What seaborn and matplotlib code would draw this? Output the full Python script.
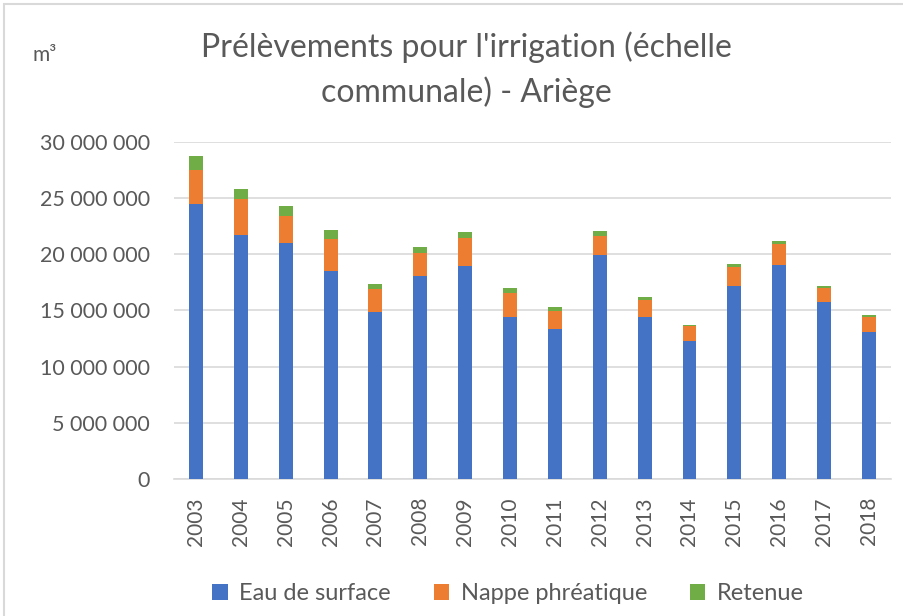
import matplotlib
matplotlib.use("Agg")
import matplotlib.pyplot as plt
import seaborn as sns
import pandas as pd
import numpy as np
from matplotlib.patches import Rectangle, Patch

years = ["2003", "2004", "2005", "2006", "2007", "2008", "2009", "2010",
         "2011", "2012", "2013", "2014", "2015", "2016", "2017", "2018"]
eau_surface = [24.49, 21.71, 21.02, 18.50, 14.88, 18.06, 18.92, 14.39,
               13.35, 19.96, 14.39, 12.28, 17.20, 19.04, 15.75, 13.05]
nappe = [3.00, 3.17, 2.41, 2.83, 2.00, 2.07, 2.49, 2.13,
         1.62, 1.66, 1.56, 1.36, 1.63, 1.89, 1.24, 1.34]
retenue = [1.25, 0.95, 0.86, 0.85, 0.47, 0.51, 0.56, 0.47,
           0.31, 0.47, 0.27, 0.06, 0.27, 0.22, 0.21, 0.20]

series = ["Eau de surface", "Nappe phréatique", "Retenue"]
colors = ["#4472C4", "#ED7D31", "#70AD47"]

df = pd.DataFrame({"year": years,
                   "s1": np.array(eau_surface) * 1e6,
                   "s2": np.array(nappe) * 1e6,
                   "s3": np.array(retenue) * 1e6})
df["c1"] = df["s1"]
df["c2"] = df["s1"] + df["s2"]
df["c3"] = df["c2"] + df["s3"]

sns.set_theme(style="white")
plt.rcParams["font.family"] = ["Lato", "DejaVu Sans"]

fig = plt.figure(figsize=(9.04, 6.16), dpi=100)
ax = fig.add_axes([0.192, 0.2224, 0.794, 0.5476])

for col, c in zip(["c3", "c2", "c1"], colors[::-1]):
    sns.barplot(data=df, x="year", y=col, color=c, width=0.31, ax=ax,
                saturation=1, linewidth=0, zorder=3)

ax.set_ylim(0, 30e6)
ax.set_xlim(-0.5, len(years) - 0.5)
ticks = np.arange(0, 30e6 + 1, 5e6)
ax.set_yticks(ticks)
ax.set_yticklabels(["0" if t == 0 else f"{int(t):,}".replace(",", " ") for t in ticks],
                   fontsize=15.5, color="#595959")
ax.set_xticks(range(len(years)))
ax.set_xticklabels(years, rotation=90, fontsize=15, color="#595959")
ax.tick_params(axis="y", length=0, pad=17)
ax.tick_params(axis="x", length=0, pad=13)
ax.set_xlabel("")
ax.set_ylabel("")
ax.yaxis.grid(True, color="#D9D9D9", linewidth=1.2, zorder=0)
ax.set_axisbelow(True)
for s in ["top", "right", "left"]:
    ax.spines[s].set_visible(False)
ax.spines["bottom"].set_color("#D9D9D9")
ax.spines["bottom"].set_linewidth(1.2)

fig.text(0.516, 0.924, "Prélèvements pour l'irrigation (échelle",
         ha="center", va="center", fontsize=23, color="#595959")
fig.text(0.516, 0.851, "communale) - Ariège",
         ha="center", va="center", fontsize=23, color="#595959")
fig.text(0.049, 0.91, "m³", ha="center", va="center", fontsize=15, color="#595959")

handles = [Patch(facecolor=c, edgecolor="none") for c in colors]
fig.legend(handles, series, loc="center", bbox_to_anchor=(0.562, 0.036), ncol=3,
           frameon=False, fontsize=17, handlelength=0.65, handleheight=0.65,
           columnspacing=1.8, handletextpad=0.5, labelcolor="#595959")

border = Rectangle((4.5 / 904, -0.1), 2, (616 - 4.5) / 616 + 0.1,
                   transform=fig.transFigure, fill=False, edgecolor="#D9D9D9",
                   linewidth=1.5)
fig.patches.append(border)

fig.savefig("out.png", dpi=100)
